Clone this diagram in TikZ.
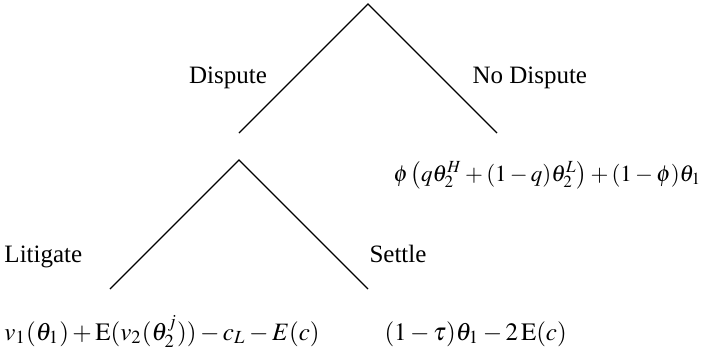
\documentclass[tikz,border=0pt]{standalone}
\usepackage{amsmath}
\usepackage{mathptmx}
\usepackage{fontspec}
\setmainfont{Liberation Serif}
\usetikzlibrary{positioning}

\begin{document}
\begin{tikzpicture}[x=0.4pt,y=-0.4pt,
    branch/.style={line width=0.45pt},
    lbl/.style={inner sep=0pt,font=\normalsize}]
  \useasboundingbox (0,0) rectangle (711,356);
  % game tree nodes
  \coordinate (root) at (368,4);
  \coordinate (disp) at (239,133);
  \coordinate (nodisp) at (497,133);
  \coordinate (court) at (239,160);
  \coordinate (lit) at (110,289);
  \coordinate (set) at (368,289);
  \draw[branch] (disp) -- (root) -- (nodisp);
  \draw[branch] (lit) -- (court) -- (set);
  % move labels
  \node[lbl,anchor=base] (dlab) at (228,83) {Dispute};
  \node[lbl,anchor=base west] (ndlab) at (472,83) {No Dispute};
  \node[lbl,anchor=base west] (llab) at (4,262) {Litigate};
  \node[lbl,anchor=base west] (slab) at (369,262) {Settle};
  % payoffs
  \node[lbl,anchor=base west,font=\fontsize{9.2}{11}\selectfont] (ndpay) at (393,181)
    {$\phi\left(q\theta_2^H+(1-q)\theta_2^L\right)+(1-\phi)\theta_1$};
  \node[lbl,anchor=base west] (lpay) at (4,340)
    {$v_1(\theta_1)+\mathrm{E}(v_2(\theta_2^j))-c_L-E(c)$};
  \node[lbl,anchor=base west] (spay) at (384,340)
    {$(1-\tau)\theta_1-2\,\mathrm{E}(c)$};
\end{tikzpicture}
\end{document}
